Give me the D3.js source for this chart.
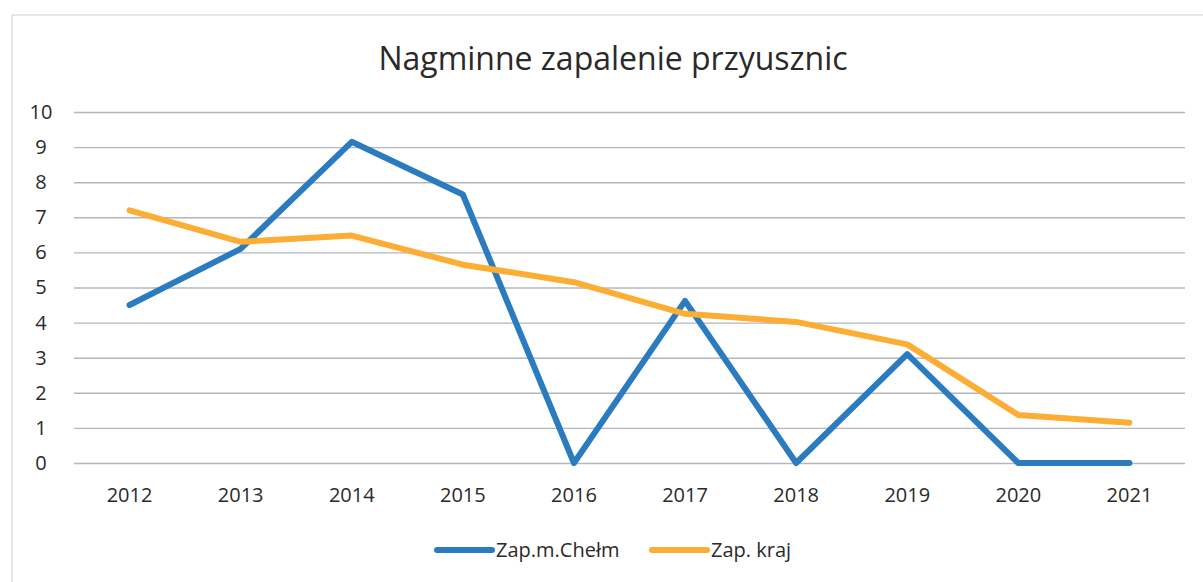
<!DOCTYPE html>
<meta charset="utf-8">
<script src="https://d3js.org/d3.v7.min.js"></script>
<style>
  body { margin: 0; background: #fff; }
  text { font-family: "Open Sans", "Noto Sans", sans-serif; fill: #2a2a2a; }
</style>
<div id="chart"></div>
<script>
    const years = ["2012","2013","2014","2015","2016","2017","2018","2019","2020","2021"];
    const chelm = [4.5, 6.1, 9.15, 7.65, 0, 4.62, 0, 3.1, 0, 0];
    const kraj  = [7.2, 6.3, 6.48, 5.65, 5.15, 4.25, 4.02, 3.38, 1.37, 1.15];
    const yTicks = [0,1,2,3,4,5,6,7,8,9,10];
    const seriesNames = ["Zap.m.Chełm", "Zap. kraj"];
    const colors = ["#2b7bbf", "#fbae33"];

    const W = 1203, H = 582;
    const margin = {top: 112, right: 18, bottom: 119, left: 74},
        width = W - margin.left - margin.right,
        height = H - margin.top - margin.bottom;

    const root = d3.select("#chart")
      .append("svg")
        .attr("width", W)
        .attr("height", H);

    // chart frame (scan shows only top and left edges)
    root.append("path")
        .attr("d", "M12,582V15H1203")
        .attr("fill", "none")
        .attr("stroke", "#cfcfcf")
        .attr("stroke-width", 1);

    root.append("text")
        .attr("x", 613)
        .attr("y", 70)
        .attr("text-anchor", "middle")
        .style("font-size", "32px")
        .text("Nagminne zapalenie przyusznic");

    const svg = root.append("g")
        .attr("transform", `translate(${margin.left}, ${margin.top})`);

    const x = d3.scaleBand()
        .domain(years)
        .range([0, width]);

    const y = d3.scaleLinear()
        .domain([0, 10])
        .range([height, 0]);

    // gridlines
    svg.append("g")
        .call(d3.axisLeft(y).tickValues(yTicks).tickSize(-width).tickFormat(""))
        .call(g => g.select(".domain").remove())
        .call(g => g.selectAll("line").attr("stroke", "#b3b6c0").attr("stroke-width", 1.4));

    // y labels
    svg.append("g")
        .call(d3.axisLeft(y).tickValues(yTicks).tickSize(0).tickPadding(33))
        .call(g => g.select(".domain").remove())
        .call(g => g.selectAll("text").style("font-size", "20px").attr("text-anchor", "middle"));

    // x labels
    svg.append("g")
        .attr("transform", `translate(0, ${height})`)
        .call(d3.axisBottom(x).tickSize(0).tickPadding(25))
        .call(g => g.select(".domain").remove())
        .call(g => g.selectAll("text").style("font-size", "20px"));

    const line = d3.line()
        .x((d, i) => x(years[i]) + x.bandwidth() / 2)
        .y(d => y(d));

    [chelm, kraj].forEach((vals, k) => {
        svg.append("path")
            .datum(vals)
            .attr("fill", "none")
            .attr("stroke", colors[k])
            .attr("stroke-width", 6)
            .attr("stroke-linejoin", "round")
            .attr("stroke-linecap", "round")
            .attr("d", line);
    });

    // legend
    const legend = root.append("g").attr("transform", "translate(437, 550)");
    const offsets = [0, 215];
    seriesNames.forEach((name, k) => {
        const g = legend.append("g").attr("transform", `translate(${offsets[k]}, 0)`);
        g.append("line")
            .attr("x1", 0).attr("x2", 55)
            .attr("stroke", colors[k])
            .attr("stroke-width", 6)
            .attr("stroke-linecap", "round");
        g.append("text")
            .attr("x", 59)
            .attr("dy", "0.35em")
            .style("font-size", "20px")
            .text(name);
    });
</script>
